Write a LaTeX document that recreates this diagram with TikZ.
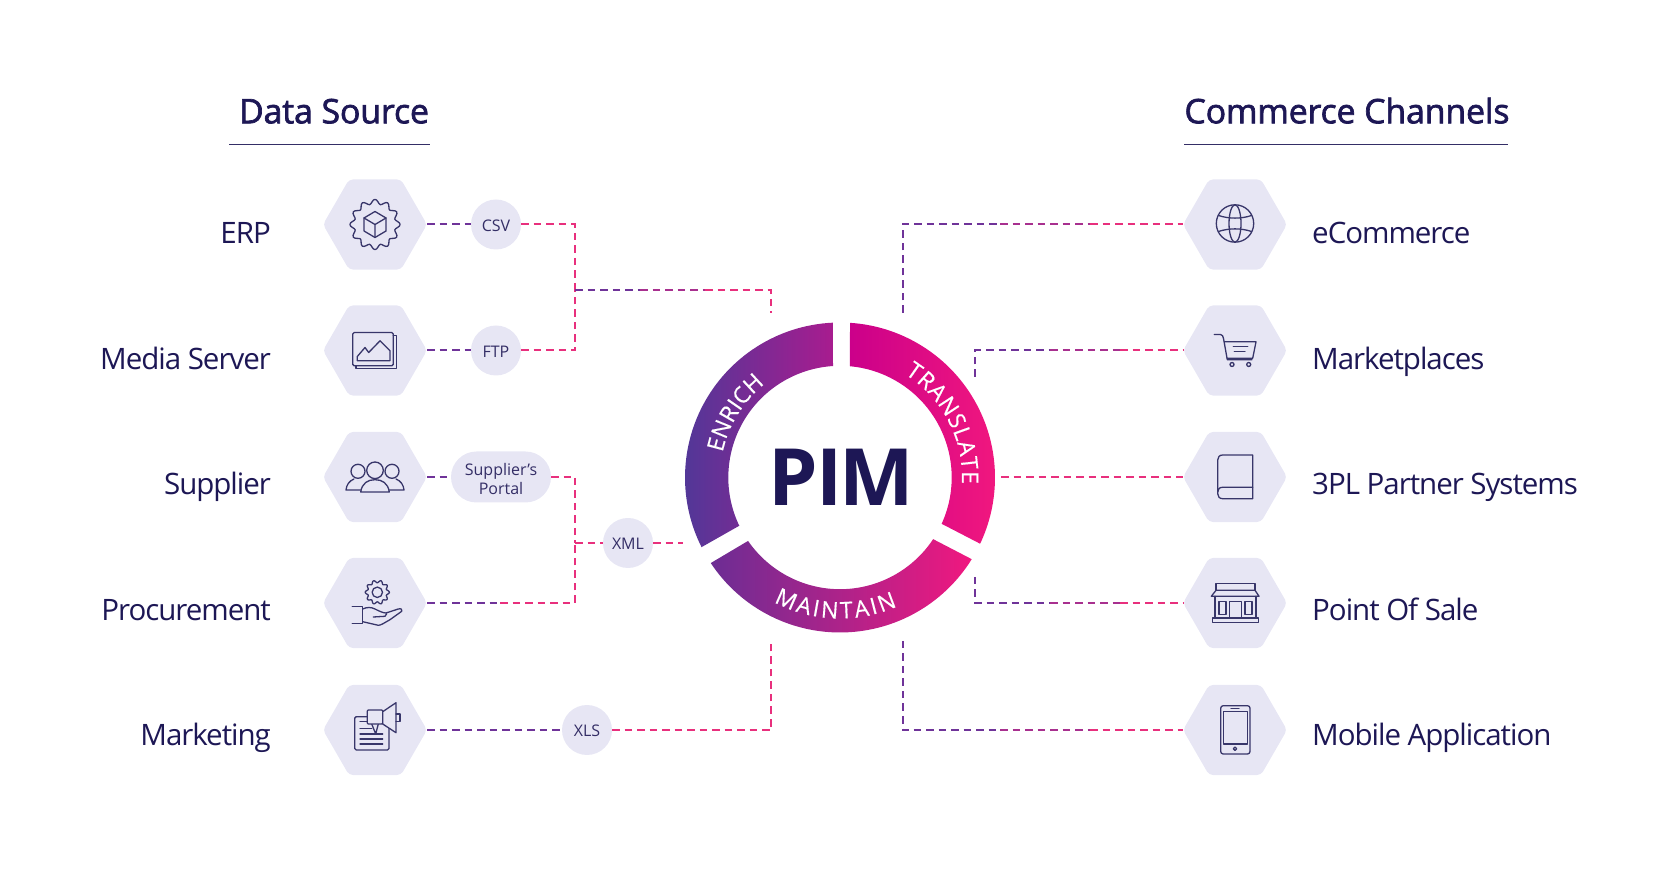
\documentclass[tikz,border=0pt]{standalone}
\usepackage{fontspec}
\setmainfont{Open Sans}
\usetikzlibrary{shapes.geometric,shapes.misc,decorations.text}

\definecolor{pimink}{HTML}{1D1755}
\definecolor{hexfill}{HTML}{E7E6F4}
\definecolor{iconink}{HTML}{38366A}
\definecolor{linkpurple}{HTML}{6F3399}
\definecolor{linkmid}{HTML}{A8308F}
\definecolor{linkpink}{HTML}{E8307D}
\definecolor{enrichleft}{RGB}{79,56,152}
\definecolor{enrichright}{RGB}{168,28,143}
\definecolor{translateleft}{RGB}{203,0,138}
\definecolor{translateright}{RGB}{242,24,126}
\definecolor{maintainleft}{RGB}{108,45,148}
\definecolor{maintainmid}{RGB}{190,14,140}
\definecolor{maintainright}{RGB}{240,24,127}

\newfontfamily\titlefont[LetterSpace=-0.3,FakeBold=2]{Open Sans}
\newfontfamily\labelfont[LetterSpace=-3.5]{Open Sans}
\newfontfamily\pimfont[LetterSpace=-3]{Open Sans}
\newfontfamily\ringface[FakeBold=0.3]{Open Sans}
\newcommand{\ringfont}{\ringface\fontsize{23}{23}\selectfont\color{white}}

\tikzset{
  hexbox/.style={regular polygon,regular polygon sides=6,
    minimum size=104pt,inner sep=0pt,outer sep=0pt,fill=hexfill,rounded corners=4pt},
  formatbox/.style={circle,minimum size=50pt,inner sep=0pt,outer sep=0pt,fill=hexfill,
    text=pimink!90,text height=13.6pt,text depth=0pt,font=\fontsize{16}{19}\selectfont},
  portalbox/.style={rounded rectangle,minimum width=100pt,minimum height=51pt,inner sep=0pt,
    outer sep=0pt,fill=hexfill,text=pimink!90,align=center,font=\fontsize{16}{19}\selectfont},
  sourcetext/.style={anchor=base east,inner sep=0pt,text=pimink,font=\labelfont\fontsize{29.5}{36}\selectfont},
  channeltext/.style={anchor=base west,inner sep=0pt,text=pimink,font=\labelfont\fontsize{29.5}{36}\selectfont},
  headtext/.style={anchor=base,inner sep=0pt,text=pimink,font=\titlefont\fontsize{33.8}{40}\selectfont},
  iconline/.style={draw=iconink,line width=1.3pt,line join=round,line cap=round},
  link/.style={line width=2pt,dash pattern=on 7.5pt off 5pt},
  linka/.style={link,draw=linkpurple},
  linkb/.style={link,draw=linkmid},
  linkc/.style={link,draw=linkpink},
  ringtext/.style={decorate,decoration={text along path,text align=fit to path,text={|\ringfont|#1}}}
}

\begin{document}
\begin{tikzpicture}[x=1pt,y=1pt]

  \useasboundingbox (0,0) rectangle (1669,886);

  % titles
  \node[headtext] (sourcehead) at (334,762.7) {Data Source};
  \node[headtext] (channelhead) at (1347,762.7) {Commerce Channels};
  \coordinate (sourceruleA) at (229,741.8);
  \coordinate (sourceruleB) at (430,741.8);
  \coordinate (channelruleA) at (1184,741.8);
  \coordinate (channelruleB) at (1508,741.8);
  \draw[line width=1.2pt,pimink!90] (sourceruleA) -- (sourceruleB);
  \draw[line width=1.2pt,pimink!90] (channelruleA) -- (channelruleB);

  % left hexagons
  \node[hexbox] (erp) at (375,661.5) {};
  \node[hexbox] (media) at (375,535.5) {};
  \node[hexbox] (supplier) at (375,409) {};
  \node[hexbox] (procure) at (375,283) {};
  \node[hexbox] (market) at (375,156) {};

  \node[sourcetext] at (271,642.5) {ERP};
  \node[sourcetext] at (271,516.5) {Media Server};
  \node[sourcetext] at (271,391) {Supplier};
  \node[sourcetext] at (271,265) {Procurement};
  \node[sourcetext] at (271,141) {Marketing};

  % right hexagons
  \node[hexbox] (ecom) at (1235,661.5) {};
  \node[hexbox] (places) at (1235,535.5) {};
  \node[hexbox] (partner) at (1235,409) {};
  \node[hexbox] (sale) at (1235,283) {};
  \node[hexbox] (mobile) at (1235,156) {};

  \node[channeltext] at (1312,642.5) {eCommerce};
  \node[channeltext] at (1312,516.5) {Marketplaces};
  \node[channeltext] at (1312,391) {3PL Partner Systems};
  \node[channeltext] at (1312,265) {Point Of Sale};
  \node[channeltext] at (1312,141) {Mobile Application};

  % formats
  \node[formatbox] (csv) at (496,661.5) {CSV};
  \node[formatbox] (ftp) at (496,535.5) {FTP};
  \node[portalbox] (portal) at (501,409) {\rule{0pt}{15.5pt}Supplier's\\Portal};
  \node[formatbox] (xml) at (628,343) {XML};
  \node[formatbox] (xls) at (587,156) {XLS};

  % ring
  \begin{scope}[shift={(840,408.5)}]
    \shade[left color=enrichleft,right color=enrichright]
      (92.6:155) arc[start angle=92.6,end angle=206.7,radius=155]
      -- (205.6:111.7) arc[start angle=205.6,end angle=93.6,radius=111.7] -- cycle;
    \shade[left color=translateleft,right color=translateright]
      (86.3:155) arc[start angle=86.3,end angle=-25.3,radius=155]
      -- (-24.5:111.7) arc[start angle=-24.5,end angle=84.9,radius=111.7] -- cycle;
    \shade[left color=maintainleft,middle color=maintainmid,right color=maintainright]
      (213.5:155) arc[start angle=213.5,end angle=328.2,radius=155]
      -- (326.5:111.7) arc[start angle=326.5,end angle=214.6,radius=111.7] -- cycle;
    \path[ringtext=ENRICH] (168:120) arc[start angle=168,end angle=130,radius=120];
    \path[ringtext=TRANSLATE] (58:122) arc[start angle=58,end angle=-3,radius=122];
    \path[ringtext=MAINTAIN] (242:141) arc[start angle=242,end angle=294,radius=141];
  \end{scope}
  \node[inner sep=0pt,text=pimink,font=\pimfont\bfseries\fontsize{79}{79}\selectfont] (pim) at (841.5,409) {PIM};

  % left connectors
  \coordinate (joinone) at (575,596);
  \coordinate (joinonemid) at (640,596);
  \coordinate (joinonepink) at (705,596);
  \coordinate (stubone) at (771,573);
  \coordinate (jointwo) at (575,343);
  \coordinate (ringleft) at (683,343);
  \coordinate (stubtwo) at (771,245);
  \coordinate (procuremid) at (500,283);

  \draw[linka] (erp.east) -- (csv.west);
  \draw[linka] (media.east) -- (ftp.west);
  \draw[linkc] (csv.east) -| (joinone);
  \draw[linkc] (ftp.east) -| (joinone);
  \draw[linka] (joinone) -- (joinonemid);
  \draw[linkb] (joinonemid) -- (joinonepink);
  \draw[linkc] (joinonepink) -| (stubone);

  \draw[linka] (supplier.east) -- (portal.west);
  \draw[linkc] (portal.east) -| (jointwo);
  \draw[linka] (procure.east) -- (procuremid);
  \draw[linkc] (procuremid) -| (jointwo);
  \draw[linkc] (jointwo) -- (xml.west);
  \draw[linkc] (xml.east) -- (ringleft);

  \draw[linka] (market.east) -- (xls.west);
  \draw[linkc] (xls.east) -| (stubtwo);

  % right connectors
  \coordinate (stubthree) at (902.7,573);
  \coordinate (ecomfrom) at (1000,661.5);
  \coordinate (ecomto) at (1090,661.5);
  \draw[linka] (stubthree) |- (ecomfrom);
  \draw[linkb] (ecomfrom) -- (ecomto);
  \draw[linkc] (ecomto) -- (ecom.west);

  \coordinate (stubfour) at (975,509);
  \coordinate (placesfrom) at (1050,535.5);
  \coordinate (placesto) at (1120,535.5);
  \draw[linka] (stubfour) |- (placesfrom);
  \draw[linkb] (placesfrom) -- (placesto);
  \draw[linkc] (placesto) -- (places.west);

  \coordinate (stubfive) at (1001,409);
  \draw[linkc] (stubfive) -- (partner.west);

  \coordinate (stubsix) at (975,309);
  \coordinate (salefrom) at (1050,283);
  \coordinate (saleto) at (1120,283);
  \draw[linka] (stubsix) |- (salefrom);
  \draw[linkb] (salefrom) -- (saleto);
  \draw[linkc] (saleto) -- (sale.west);

  \coordinate (stubseven) at (902.7,245);
  \coordinate (mobilefrom) at (1000,156);
  \coordinate (mobileto) at (1090,156);
  \draw[linka] (stubseven) |- (mobilefrom);
  \draw[linkb] (mobilefrom) -- (mobileto);
  \draw[linkc] (mobileto) -- (mobile.west);

  % icons
  \begin{scope}[shift={(erp.center)}]
    \draw[iconline] plot[smooth cycle,samples=96,domain=0:356.25] (\x:{22.8+2.3*cos(12*\x)});
    \draw[iconline] (0,13) -- (11,6.5) -- (11,-6.5) -- (0,-13) -- (-11,-6.5) -- (-11,6.5) -- cycle;
    \draw[iconline] (-11,6.5) -- (0,0) -- (11,6.5) (0,0) -- (0,-13);
  \end{scope}
  \begin{scope}[shift={(media.center)}]
    \draw[iconline,rounded corners=1.5pt] (-22.3,18) rectangle (18.3,-15.3);
    \draw[iconline] (18.3,14.7) -- (21.7,14.7) -- (21.7,-18.3) -- (-19,-18.3) -- (-19,-15.3);
    \draw[iconline] (-17.7,-10.3) -- (-17.7,-6) -- (-10,3) -- (-6.3,-2) -- (5,9.7) -- (15,-0.3) -- (15,-10.3) -- cycle;
  \end{scope}
  \begin{scope}[shift={(supplier.center)}]
    \draw[iconline] (0,6.7) circle[radius=8.3];
    \draw[iconline] (-17,5.7) circle[radius=7];
    \draw[iconline] (17,5.7) circle[radius=7];
    \draw[iconline] (-14.3,-15) .. controls (-13,-6) and (-7,-2.7) .. (0,-2.7) .. controls (7,-2.7) and (13,-6) .. (14.3,-15) -- cycle;
    \draw[iconline] (-21,-2) .. controls (-26,-4) and (-28.5,-8) .. (-29,-13) -- (-14.6,-13);
    \draw[iconline] (21,-2) .. controls (26,-4) and (28.5,-8) .. (29,-13) -- (14.6,-13);
  \end{scope}
  \begin{scope}[shift={(procure.center)}]
    \draw[iconline] plot[smooth cycle,samples=96,domain=0:356.25] ({2.3+(10.8+1.3*cos(10*\x))*cos(\x)},{10.7+(10.8+1.3*cos(10*\x))*sin(\x)});
    \draw[iconline] (2.3,10.7) circle[radius=5.2];
    \draw[iconline] (-22.7,-3.7) -- (-12.3,-3.7) -- (-12.3,-20.7) -- (-22.7,-20.7);
    \draw[iconline] (-12.3,-6) .. controls (-8,-4) and (-4,-4) .. (0,-6) .. controls (4,-8) and (8,-10) .. (11,-10) -- (23.3,-6) .. controls (26,-5) and (28,-7) .. (26.7,-8.3) -- (15,-16.7) .. controls (9,-20) and (6,-22.3) .. (3.3,-22.3) -- (-12.3,-18.7);
    \draw[iconline] (-1.7,-14) -- (10,-13.3) -- (11.7,-10.7);
  \end{scope}
  \begin{scope}[shift={(market.center)}]
    \draw[iconline,rounded corners=1.5pt] (-7.7,13.3) -- (-20.3,13.3) -- (-20.3,-20) -- (14,-20) -- (14,1.7);
    \draw[iconline] (-15,8.3) -- (-7.7,8.3) (-15,1.7) -- (-3.3,1.7) (-15,-4) -- (7.7,-4) (-15,-9) -- (7.7,-9) (-15,-14) -- (7.7,-14);
    \draw[iconline,fill=hexfill] (-3.3,6) -- (0.7,-4) -- (3.3,6);
    \draw[iconline,fill=hexfill,rounded corners=1pt] (-7.7,20) rectangle (7.7,6);
    \draw[iconline,fill=hexfill] (7.7,18.3) -- (21,27.3) -- (21,-2.7) -- (7.7,6) -- cycle;
    \draw[iconline] (21,16) -- (25,16) -- (25,8.3) -- (21,8.3);
  \end{scope}
  \begin{scope}[shift={(ecom.center)}]
    \draw[iconline] (0,1) circle[radius=18.7];
    \draw[iconline] (0,1) ellipse[x radius=6,y radius=18.7];
    \draw[iconline] (-16.5,9) .. controls (-6,5.5) and (6,5.5) .. (16.5,9);
    \draw[iconline] (-16.5,-7) .. controls (-6,-3.5) and (6,-3.5) .. (16.5,-7);
  \end{scope}
  \begin{scope}[shift={(places.center)}]
    \draw[iconline] (-20.7,16) -- (-14.5,16) .. controls (-12.5,16) and (-12,14) .. (-11.5,12) -- (-7.7,-9.3) -- (17,-9.3);
    \draw[iconline] (-10.7,8.7) -- (21,8.7) -- (17.7,-7.7) -- (-7.7,-7.7);
    \draw[iconline] (-1.7,4) -- (12.7,4) (-0.7,-1) -- (10,-1);
    \draw[iconline] (-3,-14) circle[radius=2];
    \draw[iconline] (13.7,-14) circle[radius=2];
  \end{scope}
  \begin{scope}[shift={(partner.center)}]
    \draw[iconline] (17.7,22) -- (-12.3,22) .. controls (-15.5,22) and (-17.3,20) .. (-17.3,17) -- (-17.3,-16.7) .. controls (-17.3,-19.7) and (-15.5,-21.7) .. (-12.3,-21.7) -- (17.7,-21.7) -- cycle;
    \draw[iconline] (17.7,-10.3) -- (-12.3,-10.3) .. controls (-15.5,-10.3) and (-17.3,-12) .. (-17.3,-15);
  \end{scope}
  \begin{scope}[shift={(sale.center)}]
    \draw[iconline] (-19,19.3) rectangle (20,12.7);
    \draw[iconline] (-19,12.7) -- (20,12.7) -- (24,6.7) -- (-23.7,6.7) -- cycle;
    \draw[iconline] (-20,6.7) -- (-20,-15) (21,6.7) -- (21,-15);
    \draw[iconline] (-16,1.3) rectangle (-9,-11.7);
    \draw[iconline] (-5.7,-15) -- (-5.7,1.3) -- (6.7,1.3) -- (6.7,-15);
    \draw[iconline] (10,1.3) rectangle (17,-11.7);
    \draw[iconline] (-22.7,-15) rectangle (23.3,-19.3);
  \end{scope}
  \begin{scope}[shift={(mobile.center)}]
    \draw[iconline,rounded corners=2.5pt] (-14.3,24.3) rectangle (15,-24);
    \draw[iconline] (-11.7,18.3) rectangle (12.3,-14);
    \draw[iconline] (-4,21.3) -- (4,21.3);
    \draw[iconline] (0,-18.7) circle[radius=1.7];
  \end{scope}

\end{tikzpicture}
\end{document}
